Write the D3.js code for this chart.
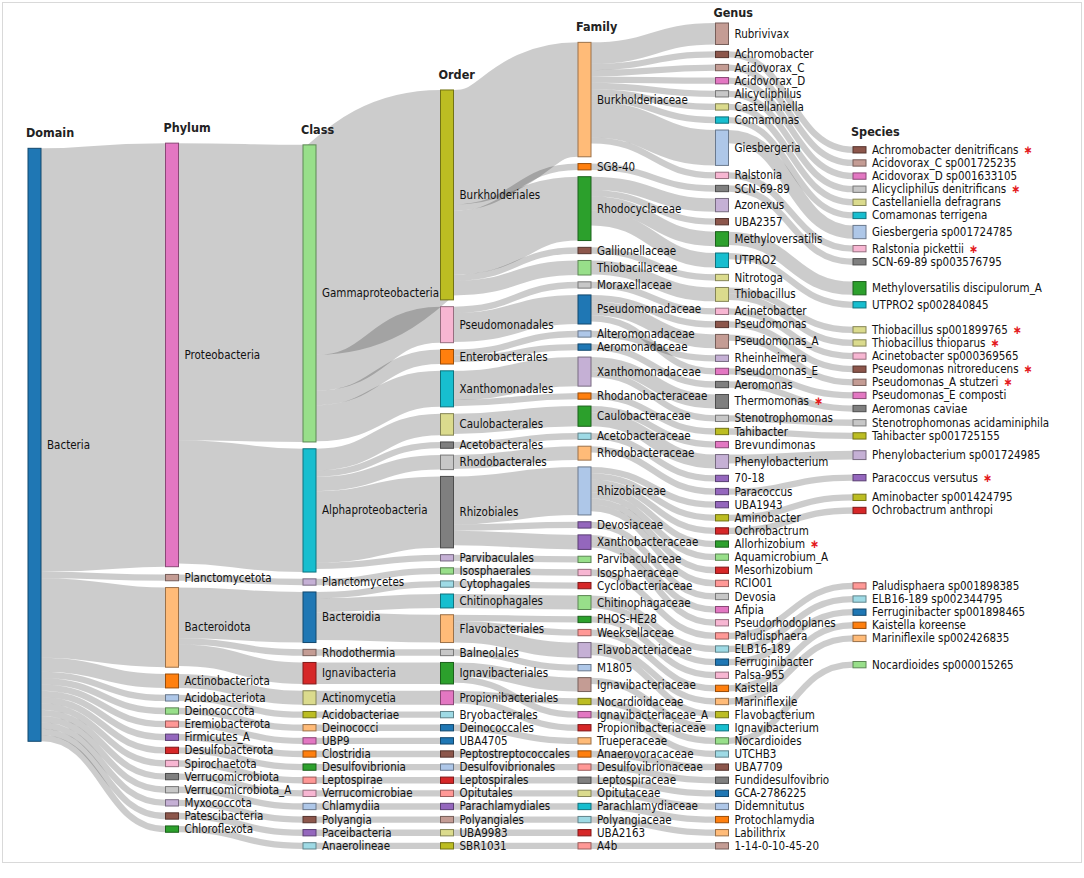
<!DOCTYPE html>
<html><head><meta charset="utf-8">
<script src="https://cdn.jsdelivr.net/npm/d3@7"></script>
<style>
html,body{margin:0;padding:0;background:#fff;}
svg{display:block;}
text{font-family:"DejaVu Sans Condensed","Liberation Sans",Arial,sans-serif;}
</style></head><body>
<svg id="chart" width="1084" height="878"></svg>
<script>
// ---------------- DATA (taxon, parent taxon, size) ----------------
const levelNames = ["Domain","Phylum","Class","Order","Family","Genus","Species"];

const domainTaxa = [["Bacteria", null, null]];

const phylumTaxa = [
  ["Proteobacteria","Bacteria",67],
  ["Planctomycetota","Bacteria",1],
  ["Bacteroidota","Bacteria",12.6],
  ["Actinobacteriota","Bacteria",2.2],
  ["Acidobacteriota","Bacteria",1],
  ["Deinococcota","Bacteria",1],
  ["Eremiobacterota","Bacteria",1],
  ["Firmicutes_A","Bacteria",1],
  ["Desulfobacterota","Bacteria",1],
  ["Spirochaetota","Bacteria",1],
  ["Verrucomicrobiota","Bacteria",1],
  ["Verrucomicrobiota_A","Bacteria",1],
  ["Myxococcota","Bacteria",1],
  ["Patescibacteria","Bacteria",1],
  ["Chloroflexota","Bacteria",1]
];

const classTaxa = [
  ["Gammaproteobacteria","Proteobacteria",47],
  ["Alphaproteobacteria","Proteobacteria",19.5],
  ["Planctomycetes","Planctomycetota",1],
  ["Bacteroidia","Bacteroidota",8],
  ["Rhodothermia","Bacteroidota",1],
  ["Ignavibacteria","Bacteroidota",3.4],
  ["Actinomycetia","Actinobacteriota",2.2],
  ["Acidobacteriae","Acidobacteriota",1],
  ["Deinococci","Deinococcota",1],
  ["UBP9","Eremiobacterota",1],
  ["Clostridia","Firmicutes_A",1],
  ["Desulfovibrionia","Desulfobacterota",1],
  ["Leptospirae","Spirochaetota",1],
  ["Verrucomicrobiae","Verrucomicrobiota",1],
  ["Chlamydiia","Verrucomicrobiota_A",1],
  ["Polyangia","Myxococcota",1],
  ["Paceibacteria","Patescibacteria",1],
  ["Anaerolineae","Chloroflexota",1]
];

const orderTaxa = [
  ["Burkholderiales","Gammaproteobacteria",33.2],
  ["Pseudomonadales","Gammaproteobacteria",5.7],
  ["Enterobacterales","Gammaproteobacteria",2.3],
  ["Xanthomonadales","Gammaproteobacteria",5.7],
  ["Caulobacterales","Alphaproteobacteria",3.4],
  ["Acetobacterales","Alphaproteobacteria",1],
  ["Rhodobacterales","Alphaproteobacteria",2.3],
  ["Rhizobiales","Alphaproteobacteria",11.3],
  ["Parvibaculales","Alphaproteobacteria",1],
  ["Isosphaerales","Planctomycetes",1],
  ["Cytophagales","Bacteroidia",1],
  ["Chitinophagales","Bacteroidia",2.2],
  ["Flavobacteriales","Bacteroidia",4.4],
  ["Balneolales","Rhodothermia",1],
  ["Ignavibacteriales","Ignavibacteria",3.4],
  ["Propionibacteriales","Actinomycetia",2.2],
  ["Bryobacterales","Acidobacteriae",1],
  ["Deinococcales","Deinococci",1],
  ["UBA4705","UBP9",1],
  ["Peptostreptococcales","Clostridia",1],
  ["Desulfovibrionales","Desulfovibrionia",1],
  ["Leptospirales","Leptospirae",1],
  ["Opitutales","Verrucomicrobiae",1],
  ["Parachlamydiales","Chlamydiia",1],
  ["Polyangiales","Polyangia",1],
  ["UBA9983","Paceibacteria",1],
  ["SBR1031","Anaerolineae",1]
];

const familyTaxa = [
  ["Burkholderiaceae","Burkholderiales",18.1],
  ["SG8-40","Burkholderiales",1],
  ["Rhodocyclaceae","Burkholderiales",10.1],
  ["Gallionellaceae","Burkholderiales",1],
  ["Thiobacillaceae","Burkholderiales",2.3],
  ["Moraxellaceae","Pseudomonadales",1],
  ["Pseudomonadaceae","Pseudomonadales",4.6],
  ["Alteromonadaceae","Enterobacterales",1],
  ["Aeromonadaceae","Enterobacterales",1],
  ["Xanthomonadaceae","Xanthomonadales",4.6],
  ["Rhodanobacteraceae","Xanthomonadales",1],
  ["Caulobacteraceae","Caulobacterales",3.2],
  ["Acetobacteraceae","Acetobacterales",1],
  ["Rhodobacteraceae","Rhodobacterales",2.2],
  ["Rhizobiaceae","Rhizobiales",7.6],
  ["Devosiaceae","Rhizobiales",1],
  ["Xanthobacteraceae","Rhizobiales",2.3],
  ["Parvibaculaceae","Parvibaculales",1],
  ["Isosphaeraceae","Isosphaerales",1],
  ["Cyclobacteriaceae","Cytophagales",1],
  ["Chitinophagaceae","Chitinophagales",2.2],
  ["PHOS-HE28","Flavobacteriales",1],
  ["Weeksellaceae","Flavobacteriales",1],
  ["Flavobacteriaceae","Flavobacteriales",2.4],
  ["M1805","Balneolales",1],
  ["Ignavibacteriaceae","Ignavibacteriales",2.2],
  ["Nocardioidaceae","Propionibacteriales",1],
  ["Ignavibacteriaceae_A","Ignavibacteriales",1],
  ["Propionibacteriaceae","Propionibacteriales",1],
  ["Trueperaceae","Deinococcales",1],
  ["Anaerovoracaceae","Peptostreptococcales",1],
  ["Desulfovibrionaceae","Desulfovibrionales",1],
  ["Leptospiraceae","Leptospirales",1],
  ["Opitutaceae","Opitutales",1],
  ["Parachlamydiaceae","Parachlamydiales",1],
  ["Polyangiaceae","Polyangiales",1],
  ["UBA2163","UBA9983",1],
  ["A4b","SBR1031",1]
];

const genusTaxa = [
  ["Rubrivivax","Burkholderiaceae",3.4],
  ["Achromobacter","Burkholderiaceae",1],
  ["Acidovorax_C","Burkholderiaceae",1],
  ["Acidovorax_D","Burkholderiaceae",1],
  ["Alicycliphilus","Burkholderiaceae",1],
  ["Castellaniella","Burkholderiaceae",1],
  ["Comamonas","Burkholderiaceae",1],
  ["Giesbergeria","Burkholderiaceae",5.6],
  ["Ralstonia","Burkholderiaceae",1],
  ["SCN-69-89","SG8-40",1],
  ["Azonexus","Rhodocyclaceae",2.1],
  ["UBA2357","Rhodocyclaceae",1],
  ["Methyloversatilis","Rhodocyclaceae",2.3],
  ["UTPRO2","Rhodocyclaceae",2.3],
  ["Nitrotoga","Gallionellaceae",1],
  ["Thiobacillus","Thiobacillaceae",2.2],
  ["Acinetobacter","Moraxellaceae",1],
  ["Pseudomonas","Pseudomonadaceae",1],
  ["Pseudomonas_A","Pseudomonadaceae",2.2],
  ["Rheinheimera","Alteromonadaceae",1],
  ["Pseudomonas_E","Pseudomonadaceae",1],
  ["Aeromonas","Aeromonadaceae",1],
  ["Thermomonas","Xanthomonadaceae",2.2],
  ["Stenotrophomonas","Xanthomonadaceae",1],
  ["Tahibacter","Rhodanobacteraceae",1],
  ["Brevundimonas","Caulobacteraceae",1],
  ["Phenylobacterium","Caulobacteraceae",2.2],
  ["70-18","Acetobacteraceae",1],
  ["Paracoccus","Rhodobacteraceae",1],
  ["UBA1943","Rhizobiaceae",1],
  ["Aminobacter","Rhizobiaceae",1],
  ["Ochrobactrum","Rhizobiaceae",1],
  ["Allorhizobium","Rhizobiaceae",1],
  ["Aquamicrobium_A","Rhizobiaceae",1],
  ["Mesorhizobium","Rhizobiaceae",1],
  ["RCIO01","Rhizobiaceae",1],
  ["Devosia","Devosiaceae",1],
  ["Afipia","Xanthobacteraceae",1],
  ["Pseudorhodoplanes","Xanthobacteraceae",1],
  ["Paludisphaera","Isosphaeraceae",1],
  ["ELB16-189","Chitinophagaceae",1],
  ["Ferruginibacter","Chitinophagaceae",1],
  ["Palsa-955","PHOS-HE28",1],
  ["Kaistella","Weeksellaceae",1],
  ["Mariniflexile","Flavobacteriaceae",1],
  ["Flavobacterium","Flavobacteriaceae",1],
  ["Ignavibacterium","Ignavibacteriaceae",1],
  ["Nocardioides","Nocardioidaceae",1],
  ["UTCHB3","Ignavibacteriaceae_A",1],
  ["UBA7709","Anaerovoracaceae",1],
  ["Fundidesulfovibrio","Desulfovibrionaceae",1],
  ["GCA-2786225","Leptospiraceae",1],
  ["Didemnitutus","Opitutaceae",1],
  ["Protochlamydia","Parachlamydiaceae",1],
  ["Labilithrix","Polyangiaceae",1],
  ["1-14-0-10-45-20","A4b",1]
];

const speciesTaxa = [
  ["Achromobacter denitrificans","Achromobacter",1],
  ["Acidovorax_C sp001725235","Acidovorax_C",1],
  ["Acidovorax_D sp001633105","Acidovorax_D",1],
  ["Alicycliphilus denitrificans","Alicycliphilus",1],
  ["Castellaniella defragrans","Castellaniella",1],
  ["Comamonas terrigena","Comamonas",1],
  ["Giesbergeria sp001724785","Giesbergeria",2.1],
  ["Ralstonia pickettii","Ralstonia",1],
  ["SCN-69-89 sp003576795","SCN-69-89",1],
  ["Methyloversatilis discipulorum_A","Methyloversatilis",2.1],
  ["UTPRO2 sp002840845","UTPRO2",1],
  ["Thiobacillus sp001899765","Thiobacillus",1],
  ["Thiobacillus thioparus","Thiobacillus",1],
  ["Acinetobacter sp000369565","Acinetobacter",1],
  ["Pseudomonas nitroreducens","Pseudomonas",1],
  ["Pseudomonas_A stutzeri","Pseudomonas_A",1],
  ["Pseudomonas_E composti","Pseudomonas_E",1],
  ["Aeromonas caviae","Aeromonas",1],
  ["Stenotrophomonas acidaminiphila","Stenotrophomonas",1],
  ["Tahibacter sp001725155","Tahibacter",1],
  ["Phenylobacterium sp001724985","Phenylobacterium",1.4],
  ["Paracoccus versutus","Paracoccus",1],
  ["Aminobacter sp001424795","Aminobacter",1],
  ["Ochrobactrum anthropi","Ochrobactrum",1],
  ["Paludisphaera sp001898385","Paludisphaera",1],
  ["ELB16-189 sp002344795","ELB16-189",1],
  ["Ferruginibacter sp001898465","Ferruginibacter",1],
  ["Kaistella koreense","Kaistella",1],
  ["Mariniflexile sp002426835","Mariniflexile",1],
  ["Nocardioides sp000015265","Nocardioides",1]
];

// taxa marked with a red asterisk
const markedTaxa = ["Thermomonas","Allorhizobium","Achromobacter denitrificans","Alicycliphilus denitrificans",
  "Ralstonia pickettii","Thiobacillus sp001899765","Thiobacillus thioparus","Pseudomonas nitroreducens",
  "Pseudomonas_A stutzeri","Paracoccus versutus"];

// ---------------- STYLE ----------------
const P = {blue:"#1f77b4",lblue:"#aec7e8",orange:"#ff7f0e",lorange:"#ffbb78",green:"#2ca02c",lgreen:"#98df8a",
  red:"#d62728",lred:"#ff9896",purple:"#9467bd",lpurple:"#c5b0d5",brown:"#8c564b",lbrown:"#c49c94",
  pink:"#e377c2",lpink:"#f7b6d2",gray:"#7f7f7f",lgray:"#c7c7c7",olive:"#bcbd22",lolive:"#dbdb8d",cyan:"#17becf",lcyan:"#9edae5"};
const nodeColors = {
  "0|Bacteria":P.blue,
  "1|Proteobacteria":P.pink,"1|Planctomycetota":P.lbrown,"1|Bacteroidota":P.lorange,"1|Actinobacteriota":P.orange,
  "1|Acidobacteriota":P.lblue,"1|Deinococcota":P.lgreen,"1|Eremiobacterota":P.lred,"1|Firmicutes_A":P.purple,
  "1|Desulfobacterota":P.red,"1|Spirochaetota":P.lpink,"1|Verrucomicrobiota":P.gray,"1|Verrucomicrobiota_A":P.lgray,
  "1|Myxococcota":P.lpurple,"1|Patescibacteria":P.brown,"1|Chloroflexota":P.green,
  "2|Gammaproteobacteria":P.lgreen,"2|Alphaproteobacteria":P.cyan,"2|Planctomycetes":P.lpurple,"2|Bacteroidia":P.blue,
  "2|Rhodothermia":P.lbrown,"2|Ignavibacteria":P.red,"2|Actinomycetia":P.lolive,"2|Acidobacteriae":P.olive,
  "2|Deinococci":P.lorange,"2|UBP9":P.pink,"2|Clostridia":P.orange,"2|Desulfovibrionia":P.green,"2|Leptospirae":P.lred,
  "2|Verrucomicrobiae":P.lpink,"2|Chlamydiia":P.lblue,"2|Polyangia":P.brown,"2|Paceibacteria":P.purple,"2|Anaerolineae":P.lcyan,
  "3|Burkholderiales":P.olive,"3|Pseudomonadales":P.lpink,"3|Enterobacterales":P.orange,"3|Xanthomonadales":P.cyan,
  "3|Caulobacterales":P.lolive,"3|Acetobacterales":P.gray,"3|Rhodobacterales":P.lgray,"3|Rhizobiales":P.gray,
  "3|Parvibaculales":P.lpurple,"3|Isosphaerales":P.lgreen,"3|Cytophagales":P.lcyan,"3|Chitinophagales":P.cyan,
  "3|Flavobacteriales":P.lorange,"3|Balneolales":P.lgray,"3|Ignavibacteriales":P.green,"3|Propionibacteriales":P.pink,
  "3|Bryobacterales":P.lcyan,"3|Deinococcales":P.blue,"3|UBA4705":P.blue,"3|Peptostreptococcales":P.brown,
  "3|Desulfovibrionales":P.lblue,"3|Leptospirales":P.red,"3|Opitutales":P.lred,"3|Parachlamydiales":P.purple,
  "3|Polyangiales":P.lbrown,"3|UBA9983":P.lolive,"3|SBR1031":P.olive,
  "4|Burkholderiaceae":P.lorange,"4|SG8-40":P.orange,"4|Rhodocyclaceae":P.green,"4|Gallionellaceae":P.brown,
  "4|Thiobacillaceae":P.lgreen,"4|Moraxellaceae":P.lgray,"4|Pseudomonadaceae":P.blue,"4|Alteromonadaceae":P.lblue,
  "4|Aeromonadaceae":P.blue,"4|Xanthomonadaceae":P.lpurple,"4|Rhodanobacteraceae":P.orange,"4|Caulobacteraceae":P.green,
  "4|Acetobacteraceae":P.lcyan,"4|Rhodobacteraceae":P.lorange,"4|Rhizobiaceae":P.lblue,"4|Devosiaceae":P.purple,
  "4|Xanthobacteraceae":P.purple,"4|Parvibaculaceae":P.lgreen,"4|Isosphaeraceae":P.lpink,"4|Cyclobacteriaceae":P.red,
  "4|Chitinophagaceae":P.lgreen,"4|PHOS-HE28":P.green,"4|Weeksellaceae":P.lred,"4|Flavobacteriaceae":P.lpurple,
  "4|M1805":P.lblue,"4|Ignavibacteriaceae":P.lbrown,"4|Nocardioidaceae":P.olive,"4|Ignavibacteriaceae_A":P.pink,
  "4|Propionibacteriaceae":P.red,"4|Trueperaceae":P.lorange,"4|Anaerovoracaceae":P.orange,"4|Desulfovibrionaceae":P.lred,
  "4|Leptospiraceae":P.gray,"4|Opitutaceae":P.lolive,"4|Parachlamydiaceae":P.cyan,"4|Polyangiaceae":P.lcyan,
  "4|UBA2163":P.red,"4|A4b":P.lred,
  "5|Rubrivivax":P.lbrown,"5|Achromobacter":P.brown,"5|Acidovorax_C":P.lbrown,"5|Acidovorax_D":P.pink,
  "5|Alicycliphilus":P.lgray,"5|Castellaniella":P.lolive,"5|Comamonas":P.cyan,"5|Giesbergeria":P.lblue,
  "5|Ralstonia":P.lpink,"5|SCN-69-89":P.gray,"5|Azonexus":P.lpurple,"5|UBA2357":P.brown,"5|Methyloversatilis":P.green,
  "5|UTPRO2":P.cyan,"5|Nitrotoga":P.lolive,"5|Thiobacillus":P.lolive,"5|Acinetobacter":P.lpink,"5|Pseudomonas":P.brown,
  "5|Pseudomonas_A":P.lbrown,"5|Rheinheimera":P.lpurple,"5|Pseudomonas_E":P.pink,"5|Aeromonas":P.gray,
  "5|Thermomonas":P.gray,"5|Stenotrophomonas":P.lgray,"5|Tahibacter":P.olive,"5|Brevundimonas":P.pink,
  "5|Phenylobacterium":P.lpurple,"5|70-18":P.purple,"5|Paracoccus":P.purple,"5|UBA1943":P.purple,"5|Aminobacter":P.olive,
  "5|Ochrobactrum":P.red,"5|Allorhizobium":P.green,"5|Aquamicrobium_A":P.lgreen,"5|Mesorhizobium":P.red,"5|RCIO01":P.lred,
  "5|Devosia":P.lgray,"5|Afipia":P.pink,"5|Pseudorhodoplanes":P.lpink,"5|Paludisphaera":P.lred,"5|ELB16-189":P.lcyan,
  "5|Ferruginibacter":P.blue,"5|Palsa-955":P.lpink,"5|Kaistella":P.orange,"5|Mariniflexile":P.lorange,
  "5|Flavobacterium":P.olive,"5|Ignavibacterium":P.cyan,"5|Nocardioides":P.lgreen,"5|UTCHB3":P.lcyan,"5|UBA7709":P.brown,
  "5|Fundidesulfovibrio":P.gray,"5|GCA-2786225":P.blue,"5|Didemnitutus":P.lblue,"5|Protochlamydia":P.orange,
  "5|Labilithrix":P.lorange,"5|1-14-0-10-45-20":P.lbrown,
  "6|Achromobacter denitrificans":P.brown,"6|Acidovorax_C sp001725235":P.lbrown,"6|Acidovorax_D sp001633105":P.pink,
  "6|Alicycliphilus denitrificans":P.lgray,"6|Castellaniella defragrans":P.lolive,"6|Comamonas terrigena":P.cyan,
  "6|Giesbergeria sp001724785":P.lblue,"6|Ralstonia pickettii":P.lpink,"6|SCN-69-89 sp003576795":P.gray,
  "6|Methyloversatilis discipulorum_A":P.green,"6|UTPRO2 sp002840845":P.cyan,"6|Thiobacillus sp001899765":P.lolive,
  "6|Thiobacillus thioparus":P.lolive,"6|Acinetobacter sp000369565":P.lpink,"6|Pseudomonas nitroreducens":P.brown,
  "6|Pseudomonas_A stutzeri":P.lbrown,"6|Pseudomonas_E composti":P.pink,"6|Aeromonas caviae":P.gray,
  "6|Stenotrophomonas acidaminiphila":P.lgray,"6|Tahibacter sp001725155":P.olive,"6|Phenylobacterium sp001724985":P.lpurple,
  "6|Paracoccus versutus":P.purple,"6|Aminobacter sp001424795":P.olive,"6|Ochrobactrum anthropi":P.red,
  "6|Paludisphaera sp001898385":P.lred,"6|ELB16-189 sp002344795":P.lcyan,"6|Ferruginibacter sp001898465":P.blue,
  "6|Kaistella koreense":P.orange,"6|Mariniflexile sp002426835":P.lorange,"6|Nocardioides sp000015265":P.lgreen
};

const layoutOpt = {x0:28, x1:866, y0:23, y1:849, nodeWidth:13, nodePadding:6.8, iterations:32,
  bandAlignedColumns:[1], lastColumnPull:0.75};

// ---------------- GRAPH ----------------
const tiers = [domainTaxa, phylumTaxa, classTaxa, orderTaxa, familyTaxa, genusTaxa, speciesTaxa];
const nodes = [], links = [];
tiers.forEach((tier, layer) => tier.forEach(([name, parent, value]) => {
  const id = layer + "|" + name;
  nodes.push({id, name, layer});
  if (parent !== null) links.push({source: (layer - 1) + "|" + parent, target: id, value});
}));

// Sankey layout: iterative relaxation, nodes kept in their given order
function sankeyLayout(nodes, links, opt) {
  const byId = new Map(nodes.map(n => [n.id, n]));
  nodes.forEach(n => { n.sourceLinks = []; n.targetLinks = []; });
  links.forEach(l => {
    l.source = byId.get(l.source); l.target = byId.get(l.target);
    l.source.sourceLinks.push(l); l.target.targetLinks.push(l);
  });
  nodes.forEach(n => n.value = Math.max(d3.sum(n.sourceLinks, l => l.value), d3.sum(n.targetLinks, l => l.value)));
  const nCols = d3.max(nodes, n => n.layer) + 1;
  const columns = d3.range(nCols).map(i => nodes.filter(n => n.layer === i));
  const x = d3.scaleLinear().domain([0, nCols - 1]).range([opt.x0, opt.x1 - opt.nodeWidth]);
  const py = opt.nodePadding, Y0 = opt.y0, Y1 = opt.y1;
  const ky = d3.min(columns, c => (Y1 - Y0 - (c.length - 1) * py) / d3.sum(c, n => n.value));
  const h = d3.scaleLinear().domain([0, 1]).range([0, ky]);
  nodes.forEach(n => { n.x0 = x(n.layer); n.x1 = n.x0 + opt.nodeWidth; });
  links.forEach(l => l.width = h(l.value));
  const center = n => (n.y0 + n.y1) / 2;
  const shift = (n, d) => { n.y0 += d; n.y1 += d; };
  const offsetIn = (list, l) => { let o = 0; for (const m of list) { if (m === l) break; o += m.width; } return o; };
  function resolve(col) {
    let y = Y0;
    for (const n of col) { const d = y - n.y0; if (d > 0) shift(n, d); y = n.y1 + py; }
    let d = y - py - Y1;
    if (d > 0) {
      let node = col[col.length - 1];
      shift(node, -d); y = node.y0;
      for (let i = col.length - 2; i >= 0; --i) {
        node = col[i];
        d = node.y1 + py - y;
        if (d > 0) shift(node, -d);
        y = node.y0;
      }
    }
  }
  columns.forEach(col => { col.forEach((n, i) => { n.y0 = i; n.y1 = i + h(n.value); }); resolve(col); });
  let alpha = 1;
  for (let k = 0; k < opt.iterations; ++k) {
    alpha *= 0.99;
    for (let c = nCols - 2; c >= 0; --c) for (const n of columns[c]) if (n.sourceLinks.length) {
      const t = d3.sum(n.sourceLinks, l => center(l.target) * l.value) / d3.sum(n.sourceLinks, l => l.value);
      shift(n, (t - center(n)) * alpha);
    }
    columns.forEach(resolve);
    for (let c = 1; c < nCols; ++c) {
      const band = opt.bandAlignedColumns.includes(c);
      for (const n of columns[c]) if (n.targetLinks.length) {
        let y = 0, w = 0;
        n.targetLinks.forEach(l => {
          const ideal = band ? l.source.y0 + offsetIn(l.source.sourceLinks, l) - offsetIn(n.targetLinks, l) + h(n.value) / 2
                             : center(l.source);
          y += ideal * l.value; w += l.value;
        });
        shift(n, (y / w - center(n)) * alpha);
      }
    }
    columns.forEach(resolve);
  }
  // last column: drawn part of the way toward its parents, around the middle of the extent
  const mid = (Y0 + Y1) / 2;
  const last = columns[nCols - 1];
  last.forEach(n => {
    const p = d3.sum(n.targetLinks, l => center(l.source) * l.value) / d3.sum(n.targetLinks, l => l.value);
    shift(n, mid + opt.lastColumnPull * (p - mid) - center(n));
  });
  resolve(last);
  nodes.forEach(n => {
    n.sourceLinks.sort((a, b) => a.target.y0 - b.target.y0);
    n.targetLinks.sort((a, b) => a.source.y0 - b.source.y0);
  });
  nodes.forEach(n => {
    let ys = n.y0, yt = n.y0;
    n.sourceLinks.forEach(l => { l.y0 = ys + l.width / 2; ys += l.width; });
    n.targetLinks.forEach(l => { l.y1 = yt + l.width / 2; yt += l.width; });
  });
  return columns;
}

const columns = sankeyLayout(nodes, links, layoutOpt);

// ---------------- DRAW ----------------
const svg = d3.select("#chart");
svg.append("rect").attr("x", 2.5).attr("y", 2.5).attr("width", 1079).attr("height", 860)
  .attr("fill", "none").attr("stroke", "#d9d9d9");

const linkPath = d3.linkHorizontal().source(d => [d.source.x1, d.y0]).target(d => [d.target.x0, d.y1]);
svg.append("g").attr("fill", "none").attr("stroke", "#000").attr("stroke-opacity", 0.2)
  .selectAll("path").data(links).join("path")
  .attr("d", linkPath).attr("stroke-width", d => Math.max(1, d.width));

svg.append("g").selectAll("rect").data(nodes).join("rect")
  .attr("x", d => d.x0).attr("y", d => d.y0)
  .attr("width", d => d.x1 - d.x0).attr("height", d => Math.max(1, d.y1 - d.y0))
  .attr("fill", d => nodeColors[d.id])
  .attr("stroke", d => d3.rgb(nodeColors[d.id]).darker(1.4));

const labels = svg.append("g").attr("font-size", 11.5).attr("fill", "#111")
  .selectAll("text").data(nodes).join("text")
  .attr("x", d => d.x1 + 6).attr("y", d => (d.y0 + d.y1) / 2).attr("dy", "0.35em")
  .text(d => d.name);

labels.filter(d => markedTaxa.includes(d.name))
  .append("tspan").attr("dx", 5).attr("fill", "#e41a1c").attr("font-size", 12).attr("font-weight", "bold").text("\u2217");

svg.append("g").attr("font-size", 12.5).attr("font-weight", "bold").attr("fill", "#222")
  .selectAll("text").data(columns).join("text")
  .attr("x", c => c[0].x0 - 2)
  .attr("y", c => Math.max(17, d3.min(c, n => n.y0) - 11))
  .text((c, i) => levelNames[i]);
</script>
</body></html>
